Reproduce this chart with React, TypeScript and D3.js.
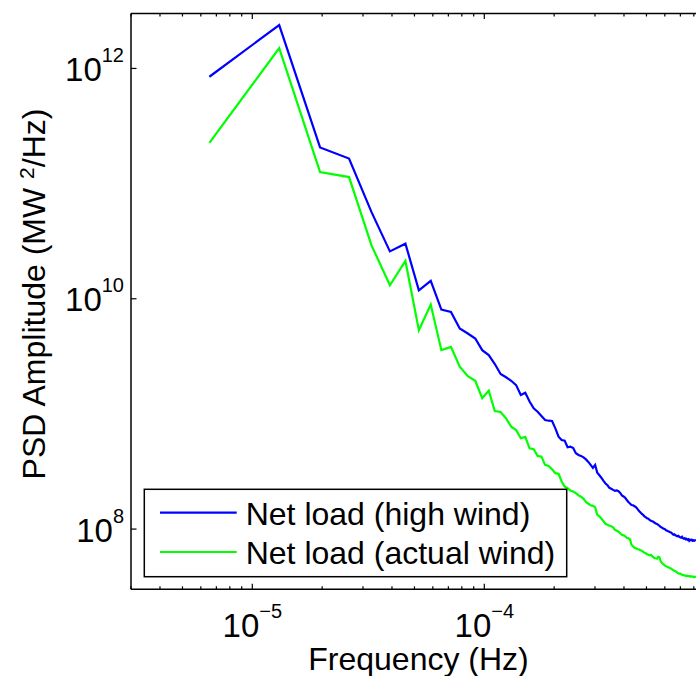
import React from "react";
import * as d3 from "d3";

// Frequency bin spacing (Hz); bins are k * FREQ_STEP, k = 1..N
const FREQ_STEP = 6.53e-6;

const seriesNames = ["Net load (high wind)", "Net load (actual wind)"];

const blueValues = [
  8.47e11, 2.38e12, 2.06e11, 1.65e11, 5.65e10, 2.58e10, 3.01e10, 1.185e10, 1.43e10, 8.06e9,
  7.69e9, 5.52e9, 4.99e9, 4.52e9, 3.58e9, 3.24e9, 2.71e9, 2.22e9, 2.08e9, 1.94e9,
  1.78e9, 1.46e9, 1.53e9, 1.28e9, 1.12e9, 1.045e9, 9.59e8, 8.85e8, 8.73e8, 8.68e8,
  7.5e8, 6.34e8, 5.94e8, 5.86e8, 5.14e8, 5.2e8, 5.06e8, 4.56e8, 4.4e8, 4.32e8,
  4.19e8, 4.03e8, 3.83e8, 3.61e8, 3.4e8, 3.61e8, 3.08e8, 2.93e8, 2.78e8, 2.62e8,
  2.49e8, 2.4e8, 2.28e8, 2.24e8, 2.19e8, 2.15e8, 2.17e8, 2.13e8, 2.06e8, 1.96e8,
  1.92e8, 1.87e8, 1.79e8, 1.72e8, 1.67e8, 1.62e8, 1.61e8, 1.58e8, 1.55e8, 1.5e8,
  1.44e8, 1.4e8, 1.36e8, 1.33e8, 1.29e8, 1.27e8, 1.24e8, 1.23e8, 1.2e8, 1.18e8,
  1.17e8, 1.157e8, 1.134e8, 1.12e8, 1.11e8, 1.09e8, 1.068e8, 1.047e8, 1.036e8, 1.016e8,
  1.006e8, 9.96e7, 9.76e7, 9.67e7, 9.57e7, 9.48e7, 9.38e7, 9.29e7, 9.11e7, 8.93e7,
  9.02e7, 8.84e7, 8.75e7, 8.66e7, 8.75e7, 8.58e7, 8.49e7, 8.41e7, 8.58e7, 8.33e7,
  8.24e7, 8.33e7, 8.16e7, 8.24e7, 8.08e7, 8.16e7, 7.92e7, 8.08e7, 8.0e7, 8.08e7,
  7.92e7, 8.0e7, 7.92e7, 8.0e7, 7.92e7,
];

const greenValues = [
  2.26e11, 1.5e12, 1.26e11, 1.14e11, 2.91e10, 1.31e10, 2.13e10, 5.34e9, 8.91e9, 3.58e9,
  3.82e9, 2.57e9, 2.13e9, 1.94e9, 1.37e9, 1.59e9, 1.06e9, 1.04e9, 9.16e8, 7.75e8,
  7.25e8, 6.15e8, 6.31e8, 5.03e8, 4.94e8, 4.32e8, 4.26e8, 3.61e8, 3.54e8, 3.31e8,
  3.06e8, 3.02e8, 2.59e8, 2.34e8, 2.27e8, 2.16e8, 2.12e8, 2.05e8, 1.96e8, 1.91e8,
  1.83e8, 1.72e8, 1.66e8, 1.61e8, 1.59e8, 1.55e8, 1.33e8, 1.29e8, 1.23e8, 1.17e8,
  1.11e8, 1.09e8, 1.068e8, 1.058e8, 1.036e8, 9.86e7, 9.67e7, 9.48e7, 9.2e7, 8.93e7,
  8.84e7, 8.66e7, 8.41e7, 8.33e7, 8.16e7, 7.31e7, 7.1e7, 6.89e7, 6.82e7, 6.68e7,
  6.68e7, 6.55e7, 6.49e7, 6.36e7, 6.23e7, 6.17e7, 6.05e7, 5.99e7, 5.93e7, 5.99e7,
  5.81e7, 5.7e7, 5.58e7, 5.58e7, 5.53e7, 5.75e7, 5.7e7, 5.31e7, 5.11e7, 5.0e7,
  4.91e7, 4.81e7, 4.76e7, 4.72e7, 4.67e7, 4.62e7, 4.58e7, 4.53e7, 4.44e7, 4.4e7,
  4.35e7, 4.31e7, 4.27e7, 4.18e7, 4.14e7, 4.1e7, 4.1e7, 4.06e7, 4.02e7, 3.98e7,
  3.98e7, 3.94e7, 3.94e7, 3.9e7, 3.94e7, 3.9e7, 3.9e7, 3.86e7, 3.9e7, 3.86e7,
  3.86e7, 3.86e7, 3.82e7, 3.86e7, 3.82e7,
];

const xMajorTicks = [1e-5, 1e-4];
const xTickExponents = ["\u22125", "\u22124"];
const yTicks = [1e8, 1e10, 1e12];
const yTickExponents = ["8", "10", "12"];

const FONT = "'Liberation Sans', Arial, Helvetica, sans-serif";

export default function App() {
  const W = 696;
  const H = 676;
  const left = 131;
  const top = 13.5;
  const bottom = 589.3;
  const right = 716.3;

  const x = d3.scaleLog().domain([3e-6, 1e-3]).range([left, right]);
  const y = d3.scaleLog().domain([3e7, 3e12]).range([bottom, top]);

  const freqs = blueValues.map((_, i) => (i + 1) * FREQ_STEP);
  const line = d3
    .line<number>()
    .x((_, i) => x(freqs[i]))
    .y((d) => y(d));

  const allXTicks = x.ticks();
  const isMajor = (t: number) => Math.abs(Math.log10(t) - Math.round(Math.log10(t))) < 1e-6;

  const series = [
    { name: seriesNames[0], values: blueValues, color: "#0000ff" },
    { name: seriesNames[1], values: greenValues, color: "#00ff00" },
  ];

  const legend = { x0: 144.3, y0: 489.3, x1: 566.7, y1: 576.7 };
  const legendRowsY = [512.7, 552];
  const legendBaselines = [525, 563.5];

  return (
    <svg
      width={W}
      height={H}
      style={{ position: "absolute", left: 0, top: 0, background: "#fff" }}
      fontFamily={FONT}
    >
      <rect x={0} y={0} width={W} height={H} fill="#fff" />
      <defs>
        <clipPath id="plotclip">
          <rect x={left} y={top} width={right - left} height={bottom - top} />
        </clipPath>
      </defs>

      {/* data */}
      <g clipPath="url(#plotclip)">
        {series.map((s) => (
          <path
            key={s.name}
            d={line(s.values) || ""}
            fill="none"
            stroke={s.color}
            strokeWidth={2.2}
            strokeLinejoin="miter"
          />
        ))}
      </g>

      {/* axes box */}
      <g stroke="#000" strokeWidth={1.5} fill="none">
        <line x1={left} y1={top} x2={right} y2={top} />
        <line x1={left} y1={bottom} x2={right} y2={bottom} />
        <line x1={left} y1={top} x2={left} y2={bottom} />
        <line x1={right} y1={top} x2={right} y2={bottom} />
      </g>

      {/* x ticks (inward on bottom and top) */}
      <g stroke="#000" strokeWidth={1.2}>
        {allXTicks.map((t, i) => {
          const len = isMajor(t) ? 5.5 : 3;
          const px = x(t);
          return (
            <g key={"xt" + i}>
              <line x1={px} x2={px} y1={bottom} y2={bottom - len} />
              <line x1={px} x2={px} y1={top} y2={top + len} />
            </g>
          );
        })}
        {yTicks.map((t, i) => (
          <line key={"yt" + i} x1={left} x2={left + 5.5} y1={y(t)} y2={y(t)} />
        ))}
      </g>

      {/* x tick labels */}
      {xMajorTicks.map((t, i) => (
        <text key={"xl" + i} x={x(t)} y={637} textAnchor="middle" fontSize={33} fill="#000">
          10
          <tspan dy={-19} fontSize={20}>
            {xTickExponents[i]}
          </tspan>
        </text>
      ))}

      {/* y tick labels */}
      {yTicks.map((t, i) => (
        <text key={"yl" + i} x={124} y={y(t) + 12.5} textAnchor="end" fontSize={33} fill="#000">
          10
          <tspan dy={-19} fontSize={20}>
            {yTickExponents[i]}
          </tspan>
        </text>
      ))}

      {/* axis labels */}
      <text x={418.5} y={669.5} textAnchor="middle" fontSize={32} fill="#000">
        Frequency (Hz)
      </text>
      <text
        transform="translate(44.5,294) rotate(-90)"
        textAnchor="middle"
        fontSize={32}
        fill="#000"
      >
        PSD Amplitude (MW{" "}
        <tspan dy={-11} fontSize={21}>
          2
        </tspan>
        <tspan dy={11}>/Hz)</tspan>
      </text>

      {/* legend */}
      <rect
        x={legend.x0}
        y={legend.y0}
        width={legend.x1 - legend.x0}
        height={legend.y1 - legend.y0}
        fill="#fff"
        stroke="#000"
        strokeWidth={1.5}
      />
      {series.map((s, i) => (
        <g key={"lg" + i}>
          <line x1={160} x2={236.7} y1={legendRowsY[i]} y2={legendRowsY[i]} stroke={s.color} strokeWidth={2.2} />
          <text x={245.7} y={legendBaselines[i]} fontSize={32} fill="#000">
            {s.name}
          </text>
        </g>
      ))}
    </svg>
  );
}
